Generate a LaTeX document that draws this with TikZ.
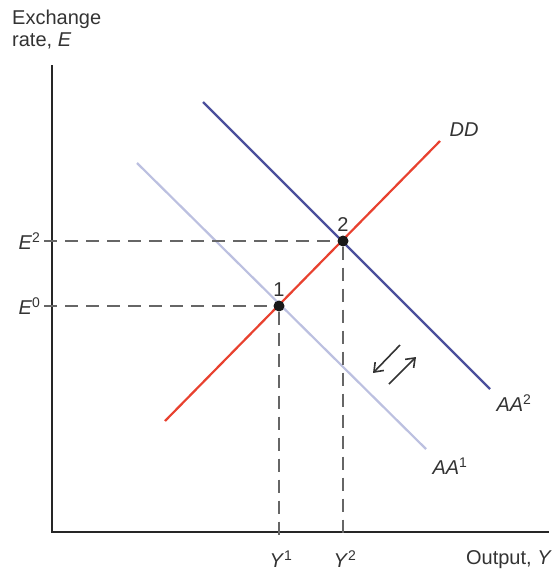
\documentclass[tikz,border=0pt]{standalone}
\usepackage{fontspec}
\setmainfont{Liberation Sans}
\usetikzlibrary{arrows.meta, positioning}

\definecolor{ddred}{HTML}{E8412F}
\definecolor{aablue}{HTML}{4B4F9C}
\definecolor{aalight}{HTML}{BCC0E0}
\newcommand{\lab}[2]{\textit{#1}\textsuperscript{#2}}

\begin{document}
\begin{tikzpicture}[
  x=1pt, y=-1pt,
  every node/.style={font=\fontsize{20}{22}\selectfont, text=black!80},
  axis/.style={line width=2pt, draw=black!85},
  curve/.style={line width=2.2pt},
  guide/.style={line width=1.5pt, draw=black!60, dash pattern=on 13pt off 8pt},
  dot/.style={circle, fill=black!90, inner sep=0pt, minimum size=11pt},
  shiftarr/.style={-{Straight Barb[length=8pt, width=12pt]}, line width=1.6pt, draw=black!80}
]
\useasboundingbox (0,0) rectangle (553,573);

% axes
\coordinate (ytop)   at (52,65);
\coordinate (origin) at (52,532);
\coordinate (xend)   at (549,532);
\draw[axis] (ytop) -- (origin) -- (xend);
\node[anchor=north west, align=left, inner sep=0pt] (ylab) at (12,10) {Exchange\\rate, \textit{E}};
\node[anchor=east, inner sep=0pt] (xlab) at (552,560) {Output, \textit{Y}};

% schedules
\coordinate (aa1-s) at (137,163);
\coordinate (aa1-e) at (426,449);
\coordinate (aa2-s) at (203,102);
\coordinate (aa2-e) at (490,389);
\coordinate (dd-s)  at (165,421);
\coordinate (dd-e)  at (440,141);
\draw[curve, aalight] (aa1-s) -- (aa1-e);
\draw[curve, aablue]  (aa2-s) -- (aa2-e);
\draw[curve, ddred]   (dd-s) -- (dd-e);
\node (dd)  at (464,130) {\textit{DD}};
\node (aa2) at (514,403) {\lab{AA}{2}};
\node (aa1) at (450,466) {\lab{AA}{1}};

% equilibria
\node[dot] (p1) at (279,306) {};
\node[dot] (p2) at (343,241) {};
\node[above=0pt of p1] (n1) {1};
\node[above=0pt of p2] (n2) {2};

% guides to the axes
\coordinate (e0) at (44,306);
\coordinate (e2) at (44,241);
\coordinate (y1) at (279,539);
\coordinate (y2) at (343,539);
\draw[guide] (e0) -- (p1) -- (y1);
\draw[guide] (e2) -- (p2) -- (y2);
\node[left=0pt of e0] (le0) {\lab{E}{0}};
\node[left=0pt of e2] (le2) {\lab{E}{2}};
\node (ly1) at (281,559) {\lab{Y}{1}};
\node (ly2) at (345,559) {\lab{Y}{2}};

% shift arrows
\coordinate (a-s) at (400,345);
\coordinate (a-e) at (373,373);
\coordinate (b-s) at (389,384);
\coordinate (b-e) at (416,357);
\draw[shiftarr] (a-s) -- (a-e);
\draw[shiftarr] (b-s) -- (b-e);
\end{tikzpicture}
\end{document}
